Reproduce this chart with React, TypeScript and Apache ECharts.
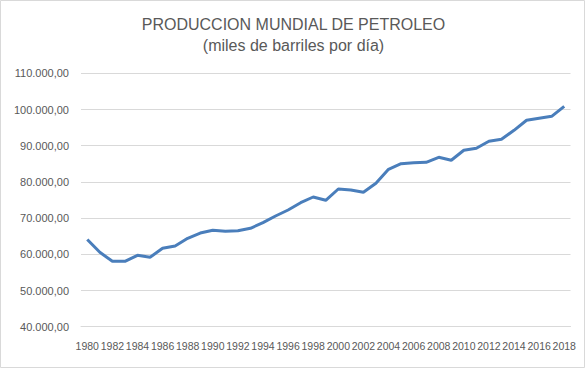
import React, { useEffect, useRef } from "react";
import * as echarts from "echarts";

const years: string[] = [
  "1980", "1981", "1982", "1983", "1984", "1985", "1986", "1987", "1988", "1989",
  "1990", "1991", "1992", "1993", "1994", "1995", "1996", "1997", "1998", "1999",
  "2000", "2001", "2002", "2003", "2004", "2005", "2006", "2007", "2008", "2009",
  "2010", "2011", "2012", "2013", "2014", "2015", "2016", "2017", "2018",
];

const production: number[] = [
  64100, 60550, 58070, 58070, 59720, 59170, 61660, 62290, 64420, 65880,
  66630, 66350, 66500, 67180, 68730, 70580, 72240, 74250, 75830, 74920,
  78040, 77760, 77130, 79610, 83480, 85030, 85300, 85400, 86800, 85970,
  88730, 89280, 91220, 91770, 94250, 97020, 97570, 98120, 100880,
];

const titleLines: string[] = ["PRODUCCION MUNDIAL DE PETROLEO", "(miles de barriles por día)"];

const yMin = 40000;
const yMax = 110000;
const yStep = 10000;

function fmt(v: number): string {
  const s = Math.round(v).toString().replace(/\B(?=(\d{3})+(?!\d))/g, ".");
  return s + ",00";
}

export default function App() {
  const ref = useRef<HTMLDivElement>(null);
  useEffect(() => {
    document.body.style.margin = "0";
    if (!ref.current) return;
    const chart = echarts.init(ref.current, null, { renderer: "svg" });
    const textColor = "#595959";
    const font = "'Liberation Sans', Arial, sans-serif";
    chart.setOption({
      animation: false,
      backgroundColor: "#ffffff",
      title: {
        text: titleLines.join("\n"),
        left: "center",
        top: 9,
        textStyle: {
          fontFamily: font,
          fontSize: 16,
          fontWeight: "normal",
          color: textColor,
          lineHeight: 21,
        },
      },
      graphic: [
        {
          type: "rect",
          shape: { x: 0.5, y: 0.5, width: 584, height: 367 },
          style: { fill: "none", stroke: "#d9d9d9", lineWidth: 1 },
          silent: true,
        },
      ],
      grid: { left: 81, right: 16.5, top: 73.3, bottom: 43.3, containLabel: false },
      xAxis: {
        type: "category",
        data: years,
        boundaryGap: true,
        axisLine: { show: true, lineStyle: { color: "#d9d9d9" } },
        axisTick: { show: false },
        axisLabel: {
          interval: 1,
          color: textColor,
          fontFamily: font,
          fontSize: 10.5,
          margin: 14,
        },
      },
      yAxis: {
        type: "value",
        min: yMin,
        max: yMax,
        interval: yStep,
        axisLine: { show: false },
        axisTick: { show: false },
        splitLine: { lineStyle: { color: "#d9d9d9", width: 1 } },
        axisLabel: {
          color: textColor,
          fontFamily: font,
          fontSize: 11,
          margin: 12,
          formatter: (v: number) => fmt(v),
        },
      },
      series: [
        {
          type: "line",
          data: production,
          symbol: "none",
          lineStyle: { color: "#4a7ebb", width: 3 },
          itemStyle: { color: "#4a7ebb" },
        },
      ],
    });
    return () => chart.dispose();
  }, []);
  return (
    <div
      ref={ref}
      style={{ position: "fixed", left: 0, top: 0, width: 587, height: 370 }}
    />
  );
}
